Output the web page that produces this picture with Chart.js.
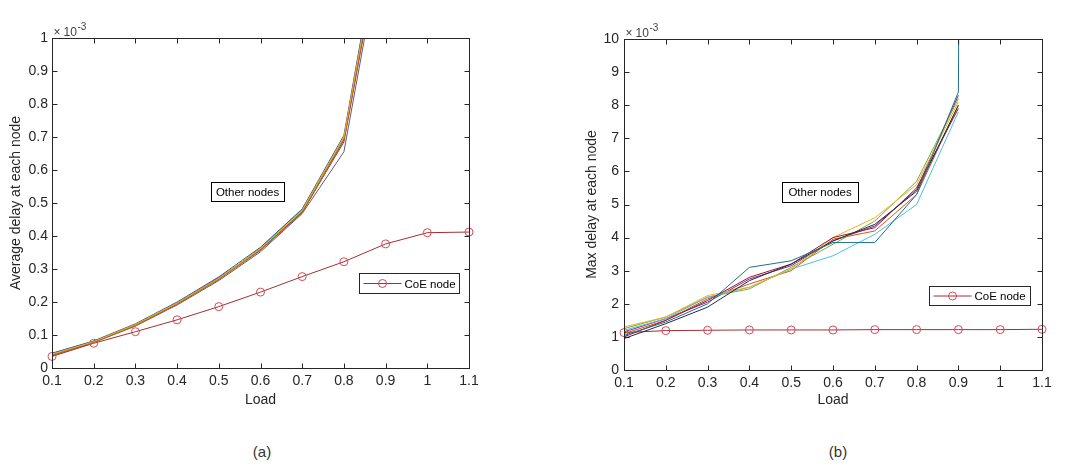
<!DOCTYPE html>
<html>
<head>
<meta charset="utf-8">
<script src="https://cdn.jsdelivr.net/npm/chart.js@4.4.1/dist/chart.umd.min.js"></script>
<style>
  body { margin: 0; background: #fff; }
  #wrap { position: relative; width: 1070px; height: 475px; font-family: "Liberation Sans", Arial, sans-serif; }
  canvas { position: absolute; top: 0; }
  #chartA { left: 0; }
  #chartB { left: 535px; }
  .cap { position: absolute; top: 443px; width: 40px; text-align: center; font-size: 15px; color: #333; }
</style>
</head>
<body>
<div id="wrap">
  <canvas id="chartA" width="535" height="420"></canvas>
  <canvas id="chartB" width="535" height="420"></canvas>
  <div class="cap" style="left:242px">(a)</div>
  <div class="cap" style="left:818px">(b)</div>
</div>
<script>
// load values (x axis)
const loadAvg = [0.1, 0.2, 0.3, 0.4, 0.5, 0.6, 0.7, 0.8, 0.9];
const loadMax = [0.1, 0.2, 0.3, 0.4, 0.5, 0.6, 0.7, 0.8, 0.9, 1.0];
const loadCoE = [0.1, 0.2, 0.3, 0.4, 0.5, 0.6, 0.7, 0.8, 0.9, 1.0, 1.1];

// (a) average delay, in units of 1e-3
const avgCoE = [0.035, 0.075, 0.110, 0.146, 0.186, 0.230, 0.277, 0.322, 0.376, 0.410, 0.412];
const avgOthers = [
    [0.042, 0.080, 0.132, 0.197, 0.272, 0.362, 0.478, 0.700, 1.40],
    [0.038, 0.078, 0.128, 0.193, 0.268, 0.356, 0.470, 0.690, 1.38],
    [0.045, 0.082, 0.134, 0.200, 0.276, 0.366, 0.482, 0.705, 1.42],
    [0.040, 0.079, 0.130, 0.195, 0.270, 0.360, 0.475, 0.695, 1.39],
    [0.043, 0.081, 0.131, 0.196, 0.274, 0.358, 0.473, 0.685, 1.37],
    [0.036, 0.077, 0.127, 0.191, 0.265, 0.352, 0.468, 0.655, 1.35],
    [0.039, 0.080, 0.129, 0.198, 0.269, 0.364, 0.480, 0.698, 1.41],
    [0.041, 0.079, 0.131, 0.194, 0.271, 0.359, 0.472, 0.692, 1.39]
];
const avgColors = ["#EDB120", "#D95319", "#2d5f9a", "#77AC30", "#7E2F8E", "#606060", "#5a7a9a", "#303030"];

// (b) max delay, in units of 1e-3
const maxCoE = [1.13, 1.19, 1.20, 1.21, 1.21, 1.21, 1.22, 1.22, 1.22, 1.22, 1.23];
const maxOthers = [
    [1.05, 1.45, 2.00, 3.10, 3.30, 3.85, 3.85, 5.30, 8.40, 250],
    [0.95, 1.40, 1.90, 2.70, 3.20, 3.90, 4.40, 5.40, 8.00, null],
    [1.00, 1.50, 2.10, 2.80, 3.20, 4.00, 4.30, 5.50, 7.90, null],
    [1.30, 1.60, 2.25, 2.50, 3.05, 4.00, 4.60, 5.60, 8.10, null],
    [1.20, 1.55, 2.20, 2.50, 3.05, 3.45, 4.10, 5.00, 7.80, null],
    [1.25, 1.60, 2.20, 2.45, 3.10, 3.80, 4.50, 5.70, 8.20, null],
    [1.10, 1.50, 2.15, 2.60, 3.00, 3.95, 4.20, 5.30, 8.00, null],
    [1.15, 1.55, 2.05, 2.75, 3.15, 3.90, 4.35, 5.45, 8.30, null]
];
const maxColors = ["#1f6f8b", "#202a50", "#A2142F", "#EDB120", "#4DBEEE", "#77AC30", "#D95319", "#7E2F8E"];

const FONT = '"Liberation Sans", Arial, sans-serif';
const INK = "#262626";

const toPoints = (xs, ys) => xs.map((x, i) => ({ x, y: ys[i] }));

// MATLAB-like box, inward ticks, exponent label, text box and legend
const matlabFrame = {
    id: "matlabFrame",
    afterDraw(chart, args, opts) {
        const { ctx, chartArea: a, scales: { x, y } } = chart;
        const L = Math.round(a.left) + 0.5, R = Math.round(a.right) + 0.5;
        const T = Math.round(a.top) + 0.5, B = Math.round(a.bottom) + 0.5;
        ctx.save();
        ctx.strokeStyle = INK;
        ctx.lineWidth = 1;
        ctx.strokeRect(L, T, R - L, B - T);
        ctx.beginPath();
        x.ticks.forEach(t => {
            const px = Math.round(x.getPixelForValue(t.value)) + 0.5;
            ctx.moveTo(px, B); ctx.lineTo(px, B - 5);
            ctx.moveTo(px, T); ctx.lineTo(px, T + 5);
        });
        y.ticks.forEach(t => {
            const py = Math.round(y.getPixelForValue(t.value)) + 0.5;
            ctx.moveTo(L, py); ctx.lineTo(L + 5, py);
            ctx.moveTo(R, py); ctx.lineTo(R - 5, py);
        });
        ctx.stroke();

        // x10^-3
        ctx.fillStyle = "#404040";
        ctx.textAlign = "left";
        ctx.textBaseline = "alphabetic";
        ctx.font = "12px " + FONT;
        ctx.fillText("×", L + 1, T - 3);
        ctx.fillText("10", L + 11, T - 3);
        ctx.font = "10px " + FONT;
        ctx.fillText("-3", L + 25, T - 9);

        // "Other nodes" text box
        const n = opts.note;
        const nx = x.getPixelForValue(n.x), ny = y.getPixelForValue(n.y);
        ctx.font = "11.5px " + FONT;
        ctx.fillStyle = "#fff";
        ctx.fillRect(Math.round(nx - n.w / 2) + 0.5, Math.round(ny - n.h / 2) + 0.5, n.w, n.h);
        ctx.strokeStyle = "#000";
        ctx.strokeRect(Math.round(nx - n.w / 2) + 0.5, Math.round(ny - n.h / 2) + 0.5, n.w, n.h);
        ctx.fillStyle = "#000";
        ctx.textAlign = "center";
        ctx.textBaseline = "middle";
        ctx.fillText(n.text, nx, ny + 1);

        // legend
        const g = opts.legend;
        const gx = Math.round(x.getPixelForValue(g.x)) + 0.5, gy = Math.round(y.getPixelForValue(g.y)) + 0.5;
        ctx.fillStyle = "#fff";
        ctx.fillRect(gx, gy, g.w, g.h);
        ctx.strokeStyle = INK;
        ctx.strokeRect(gx, gy, g.w, g.h);
        const my = gy + g.h / 2;
        ctx.strokeStyle = "#a03030";
        ctx.beginPath();
        ctx.moveTo(gx + 4, my); ctx.lineTo(gx + 42, my);
        ctx.stroke();
        ctx.strokeStyle = "#d9485a";
        ctx.beginPath();
        ctx.arc(gx + 23, my, 4, 0, Math.PI * 2);
        ctx.stroke();
        ctx.fillStyle = "#000";
        ctx.textAlign = "left";
        ctx.font = "11.5px " + FONT;
        ctx.fillText(g.text, gx + 45, my + 1);
        ctx.restore();
    }
};

function makeChart(id, p) {
    const datasets = p.others.map((vals, i) => ({
        data: toPoints(p.xs, vals),
        borderColor: p.colors[i],
        borderWidth: 1,
        pointRadius: 0,
        tension: 0
    }));
    datasets.push({
        data: toPoints(loadCoE, p.coe),
        borderColor: "#a03030",
        borderWidth: 1,
        pointRadius: 4,
        pointStyle: "circle",
        pointBackgroundColor: "rgba(0,0,0,0)",
        pointBorderColor: "#d9485a",
        pointBorderWidth: 1,
        clip: false,
        tension: 0
    });
    return new Chart(document.getElementById(id), {
        type: "line",
        data: { datasets },
        options: {
            responsive: false,
            animation: false,
            events: [],
            layout: { padding: p.padding },
            plugins: {
                legend: { display: false },
                tooltip: { enabled: false },
                matlabFrame: { note: p.note, legend: p.legend }
            },
            scales: {
                x: {
                    type: "linear",
                    min: 0.1,
                    max: 1.1,
                    grid: { display: false, drawTicks: false },
                    border: { display: false },
                    afterFit: s => { s.height = 48; },
                    ticks: {
                        stepSize: 0.1,
                        padding: 5,
                        maxRotation: 0,
                        color: INK,
                        font: { family: FONT, size: 14 },
                        callback: v => String(+v.toFixed(1))
                    },
                    title: {
                        display: true,
                        text: "Load",
                        color: INK,
                        padding: { top: 0, bottom: p.xTitlePad },
                        font: { family: FONT, size: 14 }
                    }
                },
                y: {
                    min: 0,
                    max: p.yMax,
                    grid: { display: false, drawTicks: false },
                    border: { display: false },
                    afterFit: s => { s.width = 52; },
                    ticks: {
                        stepSize: p.yStep,
                        padding: p.yTickPad,
                        color: INK,
                        font: { family: FONT, size: 14 },
                        callback: v => String(+v.toFixed(1))
                    },
                    title: {
                        display: true,
                        text: p.yTitle,
                        color: INK,
                        padding: { top: p.yTitlePad, bottom: 0 },
                        font: { family: FONT, size: 14 }
                    }
                }
            }
        },
        plugins: [matlabFrame]
    });
}

makeChart("chartA", {
    xs: loadAvg,
    others: avgOthers,
    colors: avgColors,
    coe: avgCoE,
    yMax: 1,
    yStep: 0.1,
    yTitle: "Average delay at each node",
    padding: { top: 38, right: 66, bottom: 4, left: 0 },
    xTitlePad: 7,
    yTitlePad: 8,
    yTickPad: 4,
    note: { text: "Other nodes", x: 0.569, y: 0.535, w: 73, h: 19 },
    legend: { text: "CoE node", x: 0.836, y: 0.288, w: 100, h: 20 }
});

makeChart("chartB", {
    xs: loadMax,
    others: maxOthers,
    colors: maxColors,
    coe: maxCoE,
    yMax: 10,
    yStep: 1,
    yTitle: "Max delay at each node",
    padding: { top: 39, right: 28, bottom: 2, left: 37 },
    xTitlePad: 9,
    yTitlePad: 12,
    yTickPad: 5,
    note: { text: "Other nodes", x: 0.569, y: 5.38, w: 76, h: 20 },
    legend: { text: "CoE node", x: 0.830, y: 2.54, w: 101, h: 19 }
});
</script>
</body>
</html>
